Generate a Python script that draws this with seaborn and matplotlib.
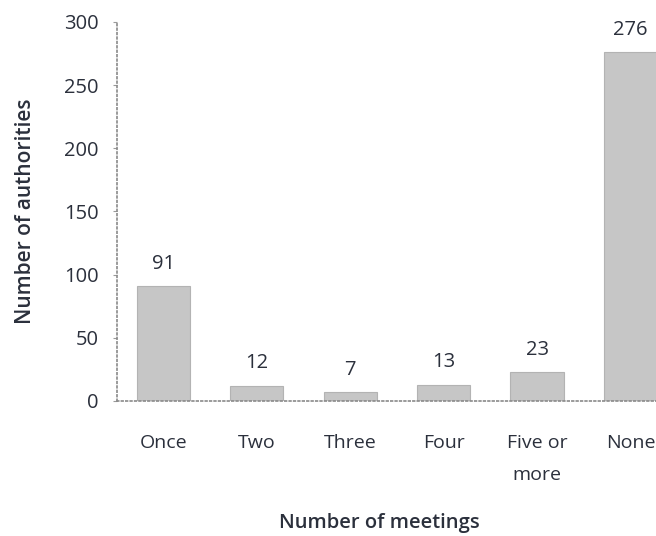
import matplotlib
matplotlib.use("Agg")
import matplotlib.pyplot as plt
import seaborn as sns
import pandas as pd

categories = ["Once", "Two", "Three", "Four", "Five or\nmore", "None"]
authorities = [91, 12, 7, 13, 23, 276]
y_ticks = [0, 50, 100, 150, 200, 250, 300]

sns.set_theme(style="white")
plt.rcParams["font.family"] = ["Open Sans", "DejaVu Sans"]

text_color = "#2b303c"
bar_color = "#c6c6c6"

df = pd.DataFrame({"meetings": categories, "count": authorities})

fig = plt.figure(figsize=(6.56, 5.36), dpi=100)
ax = fig.add_axes([0.178, 0.252, 0.823, 0.707])

sns.barplot(data=df, x="meetings", y="count", color=bar_color,
            width=0.57, edgecolor="#b3b3b3", linewidth=0.8, ax=ax,
            saturation=1)

# value labels above each bar
for i, v in enumerate(authorities):
    ax.annotate(str(v), (i, v), xytext=(0, 12.5), textcoords="offset points",
                ha="center", va="baseline", fontsize=14.5, color=text_color)

ax.set_ylim(0, 300)
ax.set_xlim(-0.5, 5.28)
ax.set_yticks(y_ticks)
ax.tick_params(axis="y", labelsize=14.5, labelcolor=text_color, length=3,
               width=0.8, color="#9a9a9a", direction="out", pad=10, left=True)
ax.tick_params(axis="x", labelsize=14, labelcolor=text_color, length=0, pad=24)
for lab in ax.get_xticklabels():
    lab.set_linespacing(1.95)

for s in ["top", "right"]:
    ax.spines[s].set_visible(False)
for s in ["left", "bottom"]:
    ax.spines[s].set_linestyle(":")
    ax.spines[s].set_color("#8a8a8a")
    ax.spines[s].set_linewidth(1.2)

ax.set_xlabel("Number of meetings", fontsize=14.5, fontweight="semibold",
              color=text_color, labelpad=21)
ax.xaxis.label.set_x(0.486)
ax.set_ylabel("Number of authorities", fontsize=15, fontweight="semibold",
              color=text_color, labelpad=20)

fig.savefig("out.png", dpi=100)
